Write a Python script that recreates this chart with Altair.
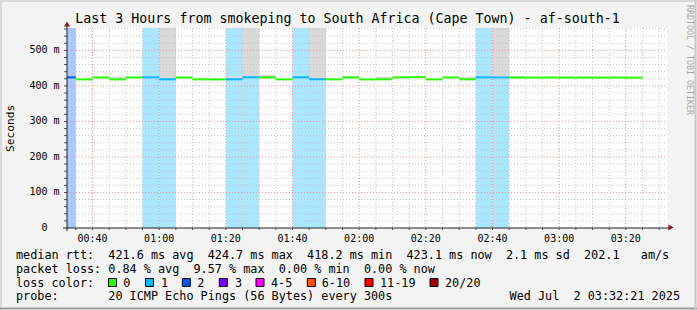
import re
import altair as alt
import pandas as pd

# ---------------- data ----------------
TITLE = "Last 3 Hours from smokeping to South Africa (Cape Town) - af-south-1"
Y_TITLE = "Seconds"
WATERMARK = "RRDTOOL / TOBI OETIKER"

window_start = "00:32:21"
window_end = "03:32:21"

step_start = ["00:30", "00:35", "00:40", "00:45", "00:50", "00:55", "01:00", "01:05", "01:10", "01:15",
              "01:20", "01:25", "01:30", "01:35", "01:40", "01:45", "01:50", "01:55", "02:00", "02:05",
              "02:10", "02:15", "02:20", "02:25", "02:30", "02:35", "02:40", "02:45", "02:50", "02:55",
              "03:00", "03:05", "03:10", "03:15", "03:20"]
step_minutes = 5
median_rtt_ms = [424.0, 418.4, 423.8, 418.3, 423.9, 424.1, 418.6, 423.7, 418.5, 418.2,
                 418.6, 424.3, 423.9, 418.4, 424.2, 418.7, 418.5, 423.8, 418.3, 418.6,
                 424.0, 424.7, 418.4, 423.9, 418.5, 424.1, 423.8, 423.6, 423.4, 423.7,
                 423.5, 423.6, 423.3, 423.4, 423.1]
loss_count = [2, 0, 0, 0, 0, 1, 1, 0, 0, 0,
              1, 1, 0, 0, 1, 1, 0, 0, 0, 0,
              0, 0, 0, 0, 0, 1, 1, 0, 0, 0,
              0, 0, 0, 0, 0]
smoke_top_ms = [None, None, None, 426, None, None, 600, None, None, None,
                428, 600, 431, None, None, 600, None, 428, None, 426,
                None, None, None, None, 426, None, 600, 428, None, None,
                None, None, None, None, None]

x_tick_labels = ["00:40", "01:00", "01:20", "01:40", "02:00", "02:20", "02:40", "03:00", "03:20"]
y_tick_values = [0, 100, 200, 300, 400, 500]
y_tick_labels = ["0", "100 m", "200 m", "300 m", "400 m", "500 m"]
y_max = 563

loss_labels = ["0", "1", "2", "3", "4-5", "6-10", "11-19", "20/20"]
loss_upper = [0, 1, 2, 3, 5, 10, 19, 20]
loss_colors = ["#26ff00", "#00b8ff", "#0059ff", "#7e00ff", "#ff00ff", "#ff5500", "#ff0000", "#a10000"]

legend_rtt = "median rtt:  421.6 ms avg  424.7 ms max  418.2 ms min  423.1 ms now  2.1 ms sd  202.1   am/s"
legend_loss = "packet loss: 0.84 % avg  9.57 % max  0.00 % min  0.00 % now"
legend_loss_caption = "loss color:"
legend_probe = "probe:       20 ICMP Echo Pings (56 Bytes) every 300s"
timestamp = "Wed Jul  2 03:32:21 2025"

# ---------------- layout ----------------
L, T, W, H = 67, 28, 600, 200
PAD_R, PAD_B = 697 - L - W, 310 - T - H
FONT = "DejaVu Sans Mono"
CW = 7.1
FS_LEG = 11.8
swatch_x = [108.5, 145.5, 182.3, 219.3, 256.0, 307.3, 365.0, 430.0]
swatch_label_x = [123.3, 161.0, 197.3, 235.0, 271.0, 321.7, 380.0, 445.0]


def to_min(s):
    p = [int(v) for v in s.split(":")]
    return p[0] * 60 + p[1] + (p[2] / 60 if len(p) > 2 else 0)


def loss_idx(n):
    for i, u in enumerate(loss_upper):
        if n <= u:
            return i
    return len(loss_upper) - 1


def lighten(hexcol, a=1 / 3):
    r, g, b = (int(hexcol[i:i + 2], 16) for i in (1, 3, 5))
    f = lambda c: round(c * a + 255 * (1 - a))
    return "#%02x%02x%02x" % (f(r), f(g), f(b))


xs = alt.Scale(domain=[to_min(window_start), to_min(window_end)], nice=False, zero=False)
ys = alt.Scale(domain=[0, y_max], nice=False, zero=True)

steps = pd.DataFrame({
    "t0": [to_min(s) for s in step_start],
    "rtt": median_rtt_ms,
    "loss": loss_count,
    "smoke": smoke_top_ms,
})
steps["t1"] = steps["t0"] + step_minutes
steps["line_color"] = [loss_colors[loss_idx(n)] for n in steps["loss"]]
steps["bg_color"] = [lighten(loss_colors[loss_idx(n)]) for n in steps["loss"]]

X = lambda f: alt.X(f, scale=xs, axis=None)
Y = lambda f: alt.Y(f, scale=ys, axis=None)
one = alt.Data(values=[{}])

# loss background bands
bg = alt.Chart(steps[steps["loss"] > 0]).mark_rect(clip=True).encode(
    x=X("t0:Q"), x2="t1:Q", y=alt.value(0), y2=alt.value(H),
    color=alt.Color("bg_color:N", scale=None))

# smoke
smoke = alt.Chart(steps[steps["smoke"].notna()]).mark_rect(clip=True, color="#d9d9d9").encode(
    x=X("t0:Q"), x2="t1:Q", y=Y("rtt:Q"), y2="smoke:Q")

# grids
x_major = [to_min(s) for s in x_tick_labels]
t_first = (int(to_min(window_start)) // 5 + 1) * 5
x_all = list(range(t_first, int(to_min(window_end)) + 1, 5))
x_minor = [v for v in x_all if v not in x_major]
y_all = list(range(20, y_max + 1, 20))
y_minor = [v for v in y_all if v % 100 != 0]
y_major = [v for v in y_tick_values if v > 0]

dash = [1, 2]
vgrid_minor = alt.Chart(pd.DataFrame({"t": x_minor})).mark_rule(color="#c4c4c4", strokeDash=dash).encode(
    x=X("t:Q"), y=alt.value(0), y2=alt.value(H))
vgrid_major = alt.Chart(pd.DataFrame({"t": x_major})).mark_rule(color="#f09090", strokeDash=dash).encode(
    x=X("t:Q"), y=alt.value(0), y2=alt.value(H))
hgrid_minor = alt.Chart(pd.DataFrame({"v": y_minor})).mark_rule(color="#c4c4c4", strokeDash=dash).encode(
    y=Y("v:Q"), x=alt.value(0), x2=alt.value(W))
hgrid_major = alt.Chart(pd.DataFrame({"v": y_major})).mark_rule(color="#f09090", strokeDash=dash).encode(
    y=Y("v:Q"), x=alt.value(0), x2=alt.value(W))

# median rtt step lines
lines = alt.Chart(steps).mark_rule(clip=True, strokeWidth=2).encode(
    x=X("t0:Q"), x2="t1:Q", y=Y("rtt:Q"),
    color=alt.Color("line_color:N", scale=None))

# ticks
xticks = alt.Chart(pd.DataFrame({"t": x_all})).mark_rule(color="#555555").encode(
    x=X("t:Q"), y=alt.value(H), y2=alt.value(H + 2))
yticks = alt.Chart(pd.DataFrame({"v": y_all})).mark_rule(color="#555555").encode(
    y=Y("v:Q"), x=alt.value(-3), x2=alt.value(0))

# axes lines + arrows
axis_col = "#222222"
xaxis = alt.Chart(one).mark_rule(color=axis_col).encode(
    x=alt.value(-4), x2=alt.value(602), y=alt.value(H))
yaxis = alt.Chart(one).mark_rule(color=axis_col).encode(
    x=alt.value(0), y=alt.value(-3), y2=alt.value(H + 3))
arrow_r = alt.Chart(one).mark_point(shape="triangle-right", filled=True, size=36,
                                     color="#8b1a1a", opacity=1).encode(
    x=alt.value(604), y=alt.value(H - 0.5))
arrow_u = alt.Chart(one).mark_point(shape="triangle-up", filled=True, size=36,
                                     color="#8b1a1a", opacity=1).encode(
    x=alt.value(0), y=alt.value(-4))

# frame shading
frame = pd.DataFrame([
    {"x0": -L, "x1": W + PAD_R, "y0": -T + 1, "y1": -T + 1, "c": "#dadada"},
    {"x0": -L + 1, "x1": -L + 1, "y0": -T, "y1": H + PAD_B, "c": "#dadada"},
    {"x0": -L, "x1": W + PAD_R, "y0": H + PAD_B - 1.5, "y1": H + PAD_B - 1.5, "c": "#9e9e9e"},
    {"x0": W + PAD_R - 1.5, "x1": W + PAD_R - 1.5, "y0": -T, "y1": H + PAD_B, "c": "#c8c8c8"},
])
frame_l = alt.Chart(frame).mark_rule(strokeWidth=2).encode(
    x=alt.X("x0:Q", scale=None), x2="x1:Q", y=alt.Y("y0:Q", scale=None), y2="y1:Q",
    color=alt.Color("c:N", scale=None))

# ---------------- texts ----------------
def tokens(s, x0, base_y):
    return [{"text": m.group(), "px": x0 + m.start() * CW - L, "py": base_y - T}
            for m in re.finditer(r"\S+", s)]

leg_rows = []
leg_rows += tokens(legend_rtt, 16, 258.5)
leg_rows += tokens(legend_loss, 16, 272.5)
leg_rows += tokens(legend_loss_caption, 16, 286.5)
leg_rows += tokens(legend_probe, 16, 300.3)
leg_rows += tokens(timestamp, 680 - len(timestamp) * CW, 300.3)
for lx, lab in zip(swatch_label_x, loss_labels):
    leg_rows.append({"text": lab, "px": lx - L, "py": 286.5 - T})
legend_text = alt.Chart(pd.DataFrame(leg_rows)).mark_text(
    font=FONT, fontSize=FS_LEG, align="left", baseline="alphabetic", color="black").encode(
    x=alt.X("px:Q", scale=None), y=alt.Y("py:Q", scale=None), text="text:N")

sw = pd.DataFrame({"x0": [x - L for x in swatch_x], "x1": [x - L + 8 for x in swatch_x],
                   "y0": 278.5 - T, "y1": 286.5 - T, "c": loss_colors})
swatches = alt.Chart(sw).mark_rect(stroke="black", strokeWidth=1).encode(
    x=alt.X("x0:Q", scale=None), x2="x1:Q", y=alt.Y("y0:Q", scale=None), y2="y1:Q",
    color=alt.Color("c:N", scale=None))

xlab = alt.Chart(pd.DataFrame({"t": x_major, "lab": x_tick_labels})).mark_text(
    font=FONT, fontSize=10, align="center", baseline="alphabetic", color="black").encode(
    x=X("t:Q"), y=alt.value(241.6 - T), text="lab:N")

ylab_df = pd.DataFrame({"v": y_tick_values, "lab": y_tick_labels})
ylab_df["dx"] = [-7.5 if " " in s else -7.5 - 12 for s in y_tick_labels]
ylab = alt.Chart(ylab_df).mark_text(
    font=FONT, fontSize=10, align="right", baseline="middle", color="black").encode(
    x=alt.X("dx:Q", scale=None), y=Y("v:Q"), text="lab:N")

title = alt.Chart(pd.DataFrame({"text": [TITLE]})).mark_text(
    font=FONT, fontSize=13.3, align="center", baseline="alphabetic", color="black").encode(
    x=alt.value(347.5 - L), y=alt.value(23.3 - T), text="text:N")

ytitle = alt.Chart(pd.DataFrame({"text": [Y_TITLE]})).mark_text(
    font=FONT, fontSize=11.2, align="center", baseline="middle", angle=270, color="black").encode(
    x=alt.value(10.8 - L), y=alt.value(128.3 - T), text="text:N")

wm = alt.Chart(pd.DataFrame({"text": [WATERMARK]})).mark_text(
    font=FONT, fontSize=8.3, align="center", baseline="middle", angle=90, color="#a8a8a8").encode(
    x=alt.value(689 - L), y=alt.value(60 - T), text="text:N")

chart = alt.layer(
    bg, smoke, vgrid_minor, hgrid_minor, vgrid_major, hgrid_major, lines,
    xticks, yticks, xaxis, yaxis, arrow_r, arrow_u, frame_l,
    legend_text, swatches, xlab, ylab, title, ytitle, wm,
).properties(
    width=W, height=H,
    autosize=alt.AutoSizeParams(type="none"),
    padding={"left": L, "top": T, "right": PAD_R, "bottom": PAD_B},
    background="#f3f3f3",
).configure_view(stroke=None, fill="white")

chart.save("out.html", embed_options={"renderer": "svg", "actions": False})
